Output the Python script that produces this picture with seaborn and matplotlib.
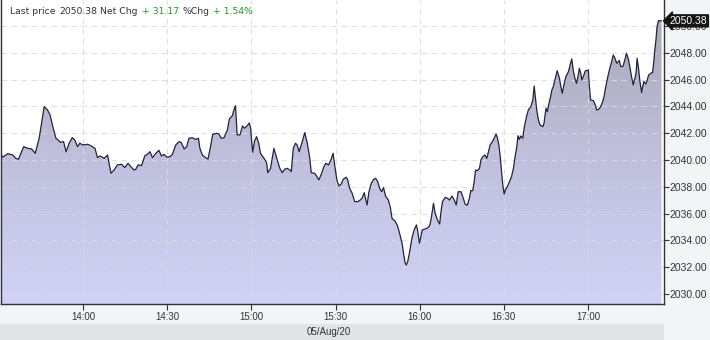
import numpy as np
import pandas as pd
import matplotlib
matplotlib.use("Agg")
import matplotlib.pyplot as plt
import matplotlib.transforms as mtransforms
from matplotlib.patches import Rectangle, PathPatch
from matplotlib.colors import LinearSegmentedColormap
import seaborn as sns

# ---------------- data ----------------
minutes_after_1300 = [
    30.7, 31.4, 33.1, 34.9, 36.0, 36.9, 38.8, 40.2, 41.6, 42.9, 44.3, 46.1, 47.3, 48.2, 49.3,
    50.3, 51.1, 51.8, 53.0, 53.9, 55.0, 56.1, 57.0, 58.0, 58.8, 59.8, 61.6, 62.7, 64.2, 65.1,
    66.0, 67.5, 68.7, 69.9, 71.0, 72.2, 73.7, 74.8, 76.0,
    77.0, 78.1, 78.7, 79.6, 80.8, 82.0, 82.9, 83.8, 84.7, 85.9, 87.0, 87.9, 88.8, 89.8, 91.0,
    91.8, 93.0, 94.2, 95.0, 96.0, 96.9, 97.7, 98.9, 100.1, 101.1, 101.6, 102.5, 103.7, 104.5,
    105.4, 106.2, 107.6, 108.4, 109.2, 110.2, 111.4, 112.1, 113.2, 113.7, 114.3, 114.9, 115.9,
    116.8, 117.5, 118.5, 119.2, 119.7, 120.4, 121.1, 121.8, 122.6,
    123.2, 124.7, 125.4, 125.8, 126.8, 128.0, 129.2, 130.1, 131.0, 131.8, 132.7, 133.7, 134.2,
    134.9, 135.7, 136.3, 137.0, 138.1, 139.0, 139.9, 140.8, 141.3, 142.5, 143.2, 144.0, 144.8,
    145.8, 146.5, 147.5, 148.4, 149.1, 149.9, 150.5, 151.2, 152.0, 152.7, 153.8, 154.3, 155.0,
    155.9, 156.8, 157.9, 158.8, 159.4, 160.2, 161.2, 161.9, 162.7, 163.6, 164.3, 165.0, 165.7,
    166.4, 167.1, 167.8, 168.8, 169.5,
    170.1, 171.3, 172.1, 172.8, 173.7, 174.2, 174.8, 175.2, 175.7, 176.4, 177.2, 178.0, 178.8,
    179.2, 179.9, 180.4, 180.9, 181.6, 182.6, 183.5, 184.0, 184.7, 184.9, 185.5, 186.3, 187.1,
    187.5, 188.1, 189.1, 189.9, 190.6, 191.5, 192.3, 193.0, 193.7, 194.7, 195.4, 196.2, 197.0,
    197.7, 198.2, 198.9, 199.4, 199.9, 200.6, 201.3, 201.8, 202.5, 203.2, 203.9, 204.5, 205.1,
    206.1, 206.8, 207.2, 207.7, 208.2, 208.7, 209.1, 209.6, 210.1, 210.5, 211.2, 212.0, 212.7,
    213.4, 214.0, 214.6, 215.0, 215.5, 216.0,
    216.7, 217.4, 218.2, 218.7, 219.6, 220.3, 220.8, 221.2, 221.7, 222.3, 222.9, 223.9, 224.3,
    225.0, 225.5, 225.8, 226.5, 227.1, 227.6, 228.2, 229.0, 229.8, 230.3, 230.8, 231.4, 232.1,
    233.0, 233.6, 234.2, 234.7, 235.3, 235.9, 236.5, 236.9, 237.4, 237.8, 238.5, 239.0, 240.1,
    240.4, 240.9, 241.9, 242.6, 243.1, 243.8, 244.5, 245.2, 245.7, 246.1, 246.8, 247.6, 248.4,
    249.0, 249.6, 250.2, 250.8, 251.1, 251.7, 252.5, 253.1, 253.7, 254.3, 254.9, 255.5, 256.1,
    256.7, 257.1, 257.5, 258.0, 258.5, 259.1, 259.4, 259.9, 260.6, 261.1, 261.6, 262.3, 263.0,
    263.5, 263.8, 264.2, 264.6, 265.1, 266.2,
]
price = [
    2040.37, 2040.22, 2040.47, 2040.37, 2040.12, 2040.05, 2040.99, 2040.87, 2040.82, 2040.50,
    2041.62, 2043.98, 2043.73, 2043.36, 2042.37, 2041.62, 2041.49, 2041.32, 2041.37, 2040.62,
    2041.25, 2041.67, 2041.49, 2040.99, 2041.25, 2041.12, 2041.17, 2041.07, 2040.87, 2040.17,
    2040.30, 2040.12, 2040.37, 2039.01, 2039.25, 2039.63, 2039.68, 2039.43, 2039.75,
    2039.50, 2039.25, 2039.30, 2039.63, 2039.58, 2040.32, 2040.42, 2040.62, 2040.17, 2040.50,
    2040.72, 2040.30, 2040.42, 2040.22, 2040.25, 2040.42, 2041.12, 2041.37, 2041.29, 2040.82,
    2040.99, 2041.62, 2041.66, 2041.54, 2041.62, 2040.87, 2040.37, 2040.17, 2040.07, 2040.99,
    2041.92, 2041.99, 2041.94, 2041.62, 2041.66, 2042.24, 2043.06, 2043.31, 2043.73, 2044.05,
    2041.87, 2041.87, 2042.54, 2042.37, 2042.56, 2042.76, 2042.37, 2040.57, 2041.42, 2041.74,
    2041.25,
    2040.50, 2040.05, 2039.80, 2039.05, 2039.38, 2040.87, 2040.00, 2039.38, 2039.05, 2039.30,
    2039.38, 2039.25, 2039.13, 2040.87, 2041.25, 2041.12, 2040.62, 2041.37, 2042.04, 2041.25,
    2040.12, 2039.05, 2039.01, 2038.81, 2038.51, 2038.88, 2039.50, 2039.75, 2039.63, 2040.05,
    2040.50, 2039.25, 2038.46, 2038.06, 2038.21, 2038.56, 2038.71, 2038.51, 2037.89, 2037.51,
    2036.89, 2036.89, 2037.01, 2037.14, 2037.56, 2036.64, 2037.63, 2038.26, 2038.56, 2038.63,
    2038.38, 2037.89, 2037.63, 2037.93, 2037.31, 2037.01, 2036.47,
    2035.65, 2035.40, 2035.07, 2034.53, 2033.78, 2033.04, 2032.29, 2032.16, 2032.41, 2033.16,
    2034.16, 2034.78, 2035.15, 2034.78, 2033.78, 2034.28, 2034.78, 2034.83, 2034.90, 2035.07,
    2035.52, 2036.51, 2036.77, 2036.02, 2035.52, 2035.22, 2036.02, 2036.89, 2037.21, 2037.14,
    2037.01, 2037.31, 2037.01, 2036.64, 2037.63, 2037.63, 2037.21, 2036.69, 2036.64, 2037.14,
    2037.71, 2037.71, 2038.38, 2039.25, 2039.20, 2039.38, 2040.00, 2040.25, 2040.37, 2040.12,
    2040.62, 2041.12, 2041.44, 2041.74, 2041.94, 2041.62, 2041.12, 2040.25, 2039.25, 2038.13,
    2037.46, 2037.76, 2038.01, 2038.38, 2038.75, 2039.38, 2040.25, 2040.99, 2041.81, 2041.54,
    2041.79,
    2041.62, 2042.61, 2043.36, 2043.73, 2043.98, 2044.48, 2045.52, 2044.72, 2043.73, 2042.99,
    2042.61, 2042.49, 2042.74, 2043.86, 2043.60, 2043.98, 2044.60, 2045.22, 2045.47, 2045.97,
    2046.66, 2046.10, 2045.47, 2044.98, 2045.60, 2046.22, 2046.59, 2047.09, 2047.54, 2046.72,
    2046.10, 2045.72, 2046.34, 2046.84, 2046.47, 2045.97, 2046.34, 2046.64, 2046.72, 2045.72,
    2044.48, 2044.43, 2044.10, 2043.73, 2043.78, 2043.98, 2044.35, 2044.72, 2045.22, 2045.97,
    2046.72, 2047.34, 2047.84, 2047.59, 2047.22, 2047.34, 2047.42, 2046.96, 2047.01, 2047.46,
    2047.96, 2047.59, 2046.96, 2046.22, 2045.60, 2046.10, 2046.47, 2047.59, 2046.84, 2045.85,
    2045.03, 2045.42, 2045.85, 2045.67, 2045.97, 2046.34, 2046.47, 2046.52, 2047.46, 2048.21,
    2048.95, 2049.95, 2050.40, 2050.38,
]
tick_minutes = [60, 90, 120, 150, 180, 210, 240]
tick_labels = ["14:00", "14:30", "15:00", "15:30", "16:00", "16:30", "17:00"]
price_ticks = [2030, 2032, 2034, 2036, 2038, 2040, 2042, 2044, 2046, 2048, 2050]
last_price = 2050.38
net_chg = 31.17
pct_chg = 1.54
date_label = "05/Aug/20"

# ---------------- figure ----------------
sns.set_theme(style="white")
plt.rcParams['font.family'] = ['DejaVu Sans']
AXFONT = ['Liberation Sans', 'DejaVu Sans']

W, H = 710, 340
fig = plt.figure(figsize=(W / 100, H / 100), dpi=100, facecolor="#f3f4f6")
ax_left, ax_right, ax_bottom, ax_top = 1, 663.5, 304, 0
ax = fig.add_axes([ax_left / W, (H - ax_bottom) / H,
                   (ax_right - ax_left) / W, (ax_bottom - ax_top) / H])
ax.set_facecolor("white")

df = pd.DataFrame({"t": minutes_after_1300, "price": price})
xmin, xmax = 30.7, 266.9
ymin, ymax = 2029.25, 2051.94

# gradient area fill
fb = ax.fill_between(df["t"], df["price"], ymin, facecolor="none", edgecolor="none")
path = fb.get_paths()[0]
patch = PathPatch(path, transform=ax.transData, facecolor="none", edgecolor="none")
ax.add_patch(patch)
cmap = LinearSegmentedColormap.from_list("grad", ["#d2d2f8", "#bfbfdc", "#a5a5b2"])
img = ax.imshow(np.linspace(0, 1, 256).reshape(-1, 1), cmap=cmap, aspect="auto",
                extent=[xmin, xmax, ymin, ymax], origin="lower", zorder=1,
                interpolation="bilinear")
img.set_clip_path(patch)

sns.lineplot(data=df, x="t", y="price", ax=ax, color="#23233a", linewidth=0.9, zorder=4)

ax.set_xlim(xmin, xmax)
ax.set_ylim(ymin, ymax)
ax.set_xlabel("")
ax.set_ylabel("")

# grid
for yv in price_ticks:
    ax.axhline(yv, color="#d9d9de", lw=0.8, ls=(0, (5, 4)), alpha=0.85, zorder=2)
for xv in tick_minutes:
    ax.axvline(xv, color="#d9d9de", lw=0.8, ls=(0, (5, 4)), alpha=0.85, zorder=2)

# axes / ticks
ax.yaxis.tick_right()
ax.set_yticks(price_ticks)
ax.set_yticklabels([f"{v:.2f}" for v in price_ticks], family=AXFONT)
ax.set_xticks(tick_minutes)
ax.set_xticklabels(tick_labels, family=AXFONT)
ax.tick_params(axis="y", which="both", right=True, left=False, length=3.5, width=0.8,
               color="#333333", labelsize=7.5, labelcolor="#333333", pad=1)
ax.tick_params(axis="x", which="both", bottom=True, length=4, width=0.8,
               color="#333333", labelsize=7, labelcolor="#333333", pad=2)
for s in ["left", "bottom", "right"]:
    ax.spines[s].set_visible(True)
    ax.spines[s].set_color("#333333")
    ax.spines[s].set_linewidth(1.0)
ax.spines["top"].set_visible(False)

# last price marker (covers the 2050.00 tick label, as in the reference)
trans = mtransforms.blended_transform_factory(ax.transAxes, ax.transData)
ax.annotate(f"{last_price:.2f}", xy=(1.0, last_price), xycoords=trans,
            xytext=(4.5, 0), textcoords="offset points", ha="left", va="center",
            fontsize=7.5, family=AXFONT, color="white", zorder=10, annotation_clip=False,
            bbox=dict(boxstyle="larrow,pad=0.1", fc="#151515", ec="#151515"))

# date bar
fig.patches.append(Rectangle((0, 0), ax_right / W, 16 / H, transform=fig.transFigure,
                             facecolor="#e3e4e6", edgecolor="none", zorder=0))
fig.text(329 / W, 8 / H, date_label, ha="center", va="center", fontsize=7,
         family=AXFONT, color="#333333")

# header
parts = [("Last price", "#333333"), (f"{last_price:.2f}", "#333333"), ("Net Chg", "#333333"),
         (f"+ {net_chg:.2f}", "#1f9a1f"), ("%Chg", "#333333"), (f"+ {pct_chg:.2f}%", "#1f9a1f")]
fig.canvas.draw()
renderer = fig.canvas.get_renderer()
x = 10
for txt, col in parts:
    t = fig.text(x / W, 1 - 11 / H, txt, ha="left", va="center", fontsize=6.7, color=col,
                 zorder=10)
    bb = t.get_window_extent(renderer=renderer)
    x += bb.width + 3.5

fig.savefig("out.png", dpi=100, facecolor=fig.get_facecolor())
